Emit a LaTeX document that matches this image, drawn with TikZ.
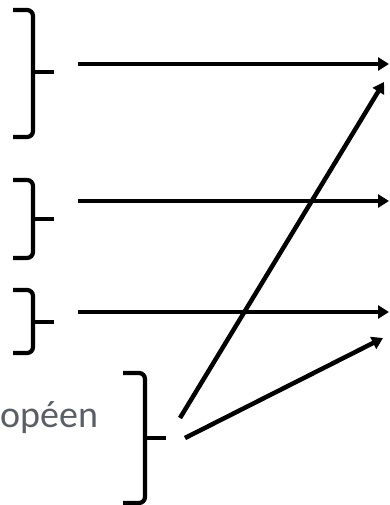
\documentclass[tikz,border=0pt]{standalone}
\usepackage{fontspec}
\setmainfont{Carlito}
\usetikzlibrary{arrows.meta}
\definecolor{txtgray}{HTML}{5A5F66}
\tikzset{
  bracepath/.style={line width=4.2pt, rounded corners=6pt},
  arrowline/.style={line width=4.5pt, -{Triangle[length=11pt,width=13pt]}},
  x={1pt}, y={-1pt}
}
\begin{document}
\begin{tikzpicture}
\useasboundingbox (0,0) rectangle (389,505);
% braces: left x, vertical x, tip x, top, mid, bottom
\foreach \xl/\xv/\xt/\yt/\ym/\yb/\nm in {13/33/54/10/72/137/b1, 13/33/54/180/219/258/b2, 13/33/54/290/322/353/b3, 123/145/166/373/438/503/b4}{
  \draw[bracepath] (\xl,\yt) -- (\xv,\yt) -- (\xv,\ym) -- (\xv,\yb) -- (\xl,\yb);
  \draw[line width=4.2pt] (\xv,\ym) -- (\xt,\ym);
  \coordinate (\nm) at (\xt,\ym);
}
\node[anchor=base west, inner sep=0pt, font=\fontsize{38}{42}\selectfont, text=txtgray] (lbl) at (0,427) {opéen};
\coordinate (s1) at (78,64);  \coordinate (e1) at (389,64);
\coordinate (s2) at (78,201); \coordinate (e2) at (389,201);
\coordinate (s3) at (78,312); \coordinate (e3) at (389,312);
\coordinate (s4) at (180,418); \coordinate (e4) at (384,82);
\coordinate (s5) at (185,438); \coordinate (e5) at (383,338);
\draw[arrowline] (s1) -- (e1);
\draw[arrowline] (s2) -- (e2);
\draw[arrowline] (s3) -- (e3);
\draw[arrowline] (s4) -- (e4);
\draw[arrowline] (s5) -- (e5);
\end{tikzpicture}
\end{document}
